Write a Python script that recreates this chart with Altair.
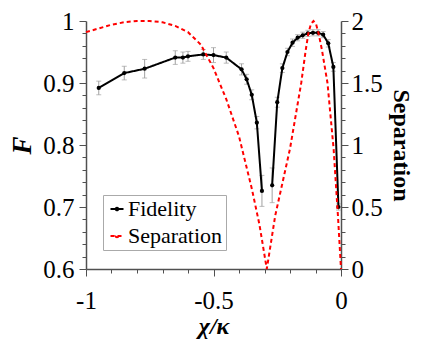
import altair as alt
import pandas as pd

FONT = "'Liberation Serif', 'Times New Roman', 'DejaVu Serif', serif"
AXC = "#505050"

# ---- Fidelity data ----
fid_x = [-0.95, -0.85, -0.77, -0.65, -0.62, -0.60, -0.54, -0.50, -0.45, -0.39,
         -0.37, -0.35, -0.33, -0.31,
         -0.27, -0.25, -0.23, -0.21, -0.19, -0.17, -0.15, -0.13, -0.11, -0.09,
         -0.07, -0.05, -0.03, -0.01]
fid_y = [0.892, 0.916, 0.923, 0.941, 0.941, 0.943, 0.946, 0.945, 0.941, 0.922,
         0.906, 0.881, 0.836, 0.726,
         0.735, 0.869, 0.924, 0.950, 0.965, 0.973, 0.977, 0.980, 0.981, 0.981,
         0.978, 0.964, 0.926, 0.700]
fid_err = [0.011, 0.011, 0.015, 0.011, 0.009, 0.008, 0.008, 0.012, 0.009, 0.009,
           0.008, 0.008, 0.010, 0.025,
           0.028, 0.008, 0.007, 0.006, 0.006, 0.005, 0.005, 0.005, 0.005, 0.005,
           0.005, 0.006, 0.007, 0.005]
fid_seg = [0] * 14 + [1] * 14

# ---- Separation data ----
sep_x = [-1.0, -0.95, -0.90, -0.85, -0.80, -0.75, -0.70, -0.65, -0.60, -0.55,
         -0.50, -0.45, -0.40, -0.35, -0.32, -0.291, -0.258, -0.20, -0.156, -0.138,
         -0.128, -0.118, -0.108, -0.098, -0.088, -0.075, -0.053, -0.029, -0.012, 0.0]
sep_y = [1.91, 1.94, 1.97, 1.99, 2.00, 2.00, 1.99, 1.96, 1.91, 1.81,
         1.62, 1.37, 1.07, 0.65, 0.36, 0.00, 0.43, 0.97, 1.50, 1.77,
         1.90, 1.976, 2.00, 1.976, 1.90, 1.77, 1.50, 0.97, 0.43, 0.00]

series_names = ["Fidelity", "Separation"]
series_colors = ["#000000", "#ff0000"]
series_dash = [[1, 0], [4, 3]]

x_ticks = [round(-1 + 0.1 * i, 1) for i in range(11)]
x_major = [-1, -0.5, 0]
f_ticks = [round(0.6 + 0.02 * i, 2) for i in range(21)]
f_major = [0.6, 0.7, 0.8, 0.9, 1]
s_ticks = [round(0.1 * i, 1) for i in range(21)]
s_major = [0, 0.5, 1, 1.5, 2]

fid_df = pd.DataFrame({
    "x": fid_x, "F": fid_y,
    "lo": [y - e for y, e in zip(fid_y, fid_err)],
    "hi": [y + e for y, e in zip(fid_y, fid_err)],
    "seg": fid_seg, "series": "Fidelity",
})
sep_df = pd.DataFrame({"x": sep_x, "sep": sep_y, "series": "Separation"})


def major_test(major):
    return f"indexof({major}, datum.value) >= 0"


def axis(values, major, **kw):
    base = dict(
        values=values,
        labelExpr=f"{major_test(major)} ? '' + datum.value : ''",
        tickSize={"condition": {"test": major_test(major), "value": 7}, "value": 4},
        grid=False, labelOverlap=False, labelFlush=False, labelBound=False,
        labelFont=FONT, labelFontSize=25, labelColor="black",
        titleFont=FONT, titleColor="black", titleFontWeight="bold",
        domainColor=AXC, domainWidth=1.5, tickColor=AXC, tickWidth=1,
    )
    base.update(kw)
    return alt.Axis(**base)


X_AXIS = axis(x_ticks, x_major, title="χ/κ", titleFontStyle="italic",
              titleFontSize=24, labelPadding=12, titlePadding=1)
F_AXIS = axis(f_ticks, f_major, title="F", titleFontStyle="italic",
              titleFontSize=27, labelPadding=5, titlePadding=6)
S_AXIS = axis(s_ticks, s_major, orient="right", title="Separation",
              titleFontSize=24, labelPadding=3, titlePadding=6)

xenc = alt.X("x:Q", scale=alt.Scale(domain=[-1, 0], nice=False), axis=X_AXIS)


def fy(field):
    return alt.Y(f"{field}:Q", scale=alt.Scale(domain=[0.6, 1], nice=False, zero=False),
                 axis=F_AXIS)


LEGEND = alt.Legend(
    title=None, orient="none", legendX=17, legendY=174,
    symbolType="M-1,0H1M0.2,0A0.2,0.2,0,1,1,-0.2,0A0.2,0.2,0,1,1,0.2,0Z",
    symbolSize=169, symbolStrokeWidth=2,
    labelFont=FONT, labelFontSize=22, labelColor="black", labelOffset=0,
    strokeColor="#aaaaaa", fillColor="white", padding=3, rowPadding=5,
)
color = alt.Color("series:N", scale=alt.Scale(domain=series_names, range=series_colors),
                  legend=LEGEND)
dash = alt.StrokeDash("series:N", scale=alt.Scale(domain=series_names, range=series_dash),
                      legend=LEGEND)

base = alt.Chart(fid_df)
err_rule = base.mark_rule(color="#a0a0a0", strokeWidth=1).encode(
    x=xenc, y=fy("lo"), y2="hi")
err_lo = base.mark_tick(color="#a0a0a0", orient="horizontal", size=5, thickness=1).encode(
    x=xenc, y=fy("lo"))
err_hi = base.mark_tick(color="#a0a0a0", orient="horizontal", size=5, thickness=1).encode(
    x=xenc, y=fy("hi"))
fid_line = base.mark_line(strokeWidth=2).encode(
    x=xenc, y=fy("F"), color=color, strokeDash=dash, detail="seg:N")
fid_pts = base.mark_circle(size=18, color="black", opacity=1).encode(
    x=xenc, y=fy("F"))

left = alt.layer(err_rule, err_lo, err_hi, fid_line, fid_pts)

sep_line = alt.Chart(sep_df).mark_line(strokeWidth=2).encode(
    x=xenc,
    y=alt.Y("sep:Q", scale=alt.Scale(domain=[0, 2], nice=False), axis=S_AXIS),
    color=color, strokeDash=dash,
)

chart = (
    alt.layer(left, sep_line)
    .resolve_scale(y="independent")
    .properties(
        width=255, height=248,
        padding={"left": 78, "top": 13, "right": 78, "bottom": 70},
        autosize=alt.AutoSizeParams(type="none"),
        background="white",
    )
    .configure_view(stroke=None)
)

chart.save("out.html", embed_options={"renderer": "svg", "actions": False})
